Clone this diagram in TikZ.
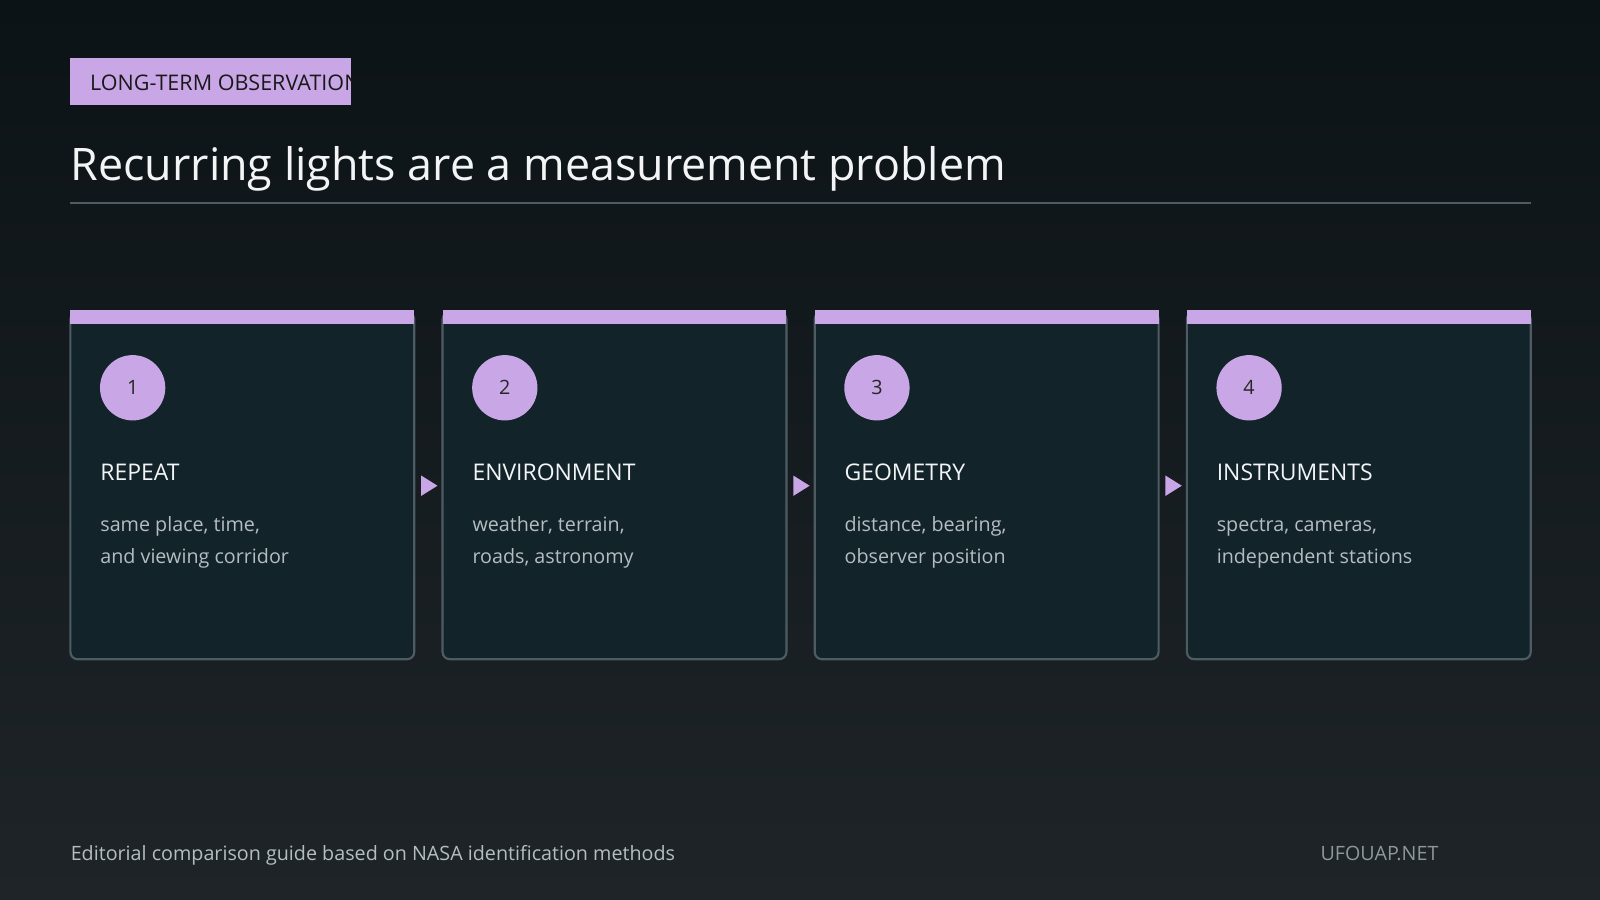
\documentclass[tikz,border=0pt]{standalone}
\usepackage{fontspec}
\setmainfont{Open Sans}
\definecolor{bgtop}{HTML}{0C1316}
\definecolor{bgbot}{HTML}{1E2427}
\definecolor{card}{HTML}{13232A}
\definecolor{edge}{HTML}{4C5C62}
\definecolor{lav}{HTML}{C9A7E6}
\definecolor{txt}{HTML}{F2F4F5}
\definecolor{sub}{HTML}{B4BDC1}
\definecolor{foot}{HTML}{8E979B}
\begin{document}
\begin{tikzpicture}[x=0.02cm,y=-0.02cm,
  cardbox/.style={draw=edge,line width=1.2pt,fill=card,rounded corners=4pt},
  bar/.style={fill=lav},
  num/.style={circle,fill=lav,minimum size=64*0.02cm,inner sep=0,font=\fontsize{11}{13}\selectfont,text=black!85},
  head/.style={anchor=base west,font=\fontsize{12.8}{15}\selectfont,text=txt},
  body/.style={anchor=base west,inner sep=0,font=\fontsize{11}{13}\selectfont,text=sub},
  arr/.style={fill=lav}]
\shade[top color=bgtop,bottom color=bgbot] (0,0) rectangle (1568,882);
\useasboundingbox (0,0) rectangle (1568,882);
\fill[lav] (69,57) rectangle (344,103);
\begin{scope}
\clip (69,57) rectangle (344,103);
\node[anchor=west,inner sep=0,font=\fontsize{12}{14}\selectfont,text=black!90] (tag) at (88,81) {LONG-TERM OBSERVATIONS};
\end{scope}
\node[anchor=base west,inner sep=0,font=\fontsize{25}{30}\selectfont,text=txt] (title) at (69,177) {Recurring lights are a measurement problem};
\draw[edge,line width=1pt] (69,199) -- (1500,199);
\foreach \i/\n/\h/\a/\b in {0/1/REPEAT/{same place, time,}/{and viewing corridor},
  1/2/ENVIRONMENT/{weather, terrain,}/{roads, astronomy},
  2/3/GEOMETRY/{distance, bearing,}/{observer position},
  3/4/INSTRUMENTS/{spectra, cameras,}/{independent stations}}{
  \pgfmathsetmacro{\x}{69+364.7*\i}
  \draw[cardbox] (\x,306) rectangle ++(337,340);
  \fill[bar] (\x,304) rectangle ++(337,14);
  \node[num] (n\n) at (\x+61,380) {\n};
  \node[head,inner sep=0] (h\n) at (\x+29,471) {\h};
  \node[body] (a\n) at (\x+29,521) {\a};
  \node[body] (b\n) at (\x+29,552) {\b};
}
\foreach \i in {1,2,3}{
  \pgfmathsetmacro{\x}{69+364.7*\i-14}
  \fill[arr] (\x-7,466) -- (\x+9,476) -- (\x-7,486) -- cycle;
}
\node[anchor=base west,inner sep=0,font=\fontsize{11}{13}\selectfont,text=sub] (ft) at (69,843) {Editorial comparison guide based on NASA identification methods};
\node[anchor=base east,inner sep=0,font=\fontsize{11}{13}\selectfont,text=foot] (site) at (1410,843) {UFOUAP.NET};
\end{tikzpicture}
\end{document}
